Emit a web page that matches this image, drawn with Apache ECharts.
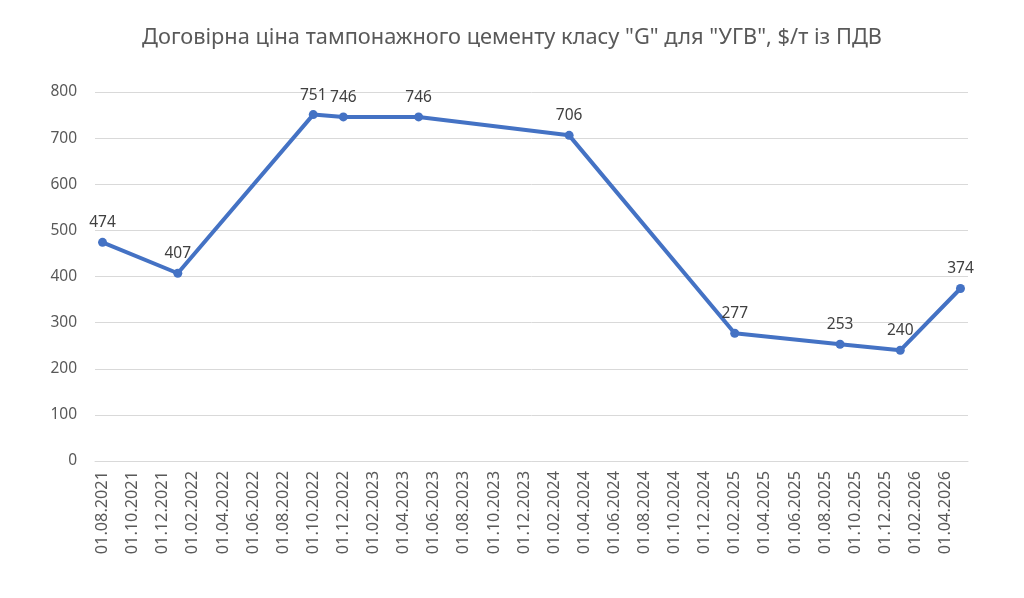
<!DOCTYPE html>
<html>
<head>
<meta charset="utf-8">
<script src="https://cdn.jsdelivr.net/npm/echarts@6/dist/echarts.min.js"></script>
<style>
    html, body { margin: 0; padding: 0; background: #fff; }
    #chart { width: 1024px; height: 598px; }
</style>
</head>
<body>
<div id="chart"></div>
<script>
    // точки ціни (дата місяця -> $/т)
    var pointDates = ['01.08.2021', '01.01.2022', '01.10.2022', '01.12.2022', '01.05.2023',
                      '01.03.2024', '01.02.2025', '01.09.2025', '01.01.2026', '01.05.2026'];
    var pointValues = [474, 407, 751, 746, 746, 706, 277, 253, 240, 374];
    var yTicks = [0, 100, 200, 300, 400, 500, 600, 700, 800];
    var titleText = 'Договірна ціна тампонажного цементу класу "G" для "УГВ", $/т із ПДВ';

    // місячна шкала з 01.08.2021 по 01.05.2026
    var months = [];
    var y = 2021, m = 8;
    while (y < 2026 || (y === 2026 && m <= 5)) {
        months.push('01.' + (m < 10 ? '0' + m : m) + '.' + y);
        m++;
        if (m > 12) { m = 1; y++; }
    }

    var seriesData = pointDates.map(function (d, i) { return [d, pointValues[i]]; });

    var myChart = echarts.init(document.getElementById('chart'));
    myChart.setOption({
        animation: false,
        title: {
            text: titleText,
            left: 'center',
            top: 22,
            textStyle: {
                fontFamily: 'Noto Sans',
                fontWeight: 'normal',
                fontSize: 21.8,
                color: '#595959'
            }
        },
        grid: {
            left: 95,
            right: 56,
            top: 92,
            bottom: 137
        },
        xAxis: {
            type: 'category',
            boundaryGap: true,
            data: months,
            axisLine: { lineStyle: { color: '#d9d9d9', width: 1 } },
            axisTick: {
                interval: 1,
                alignWithLabel: false,
                length: 5,
                lineStyle: { color: '#d9d9d9' }
            },
            axisLabel: {
                interval: 1,
                rotate: 90,
                margin: 10,
                color: '#595959',
                fontSize: 16.3,
                fontFamily: 'Noto Sans'
            },
            splitLine: { show: false }
        },
        yAxis: {
            type: 'value',
            min: yTicks[0],
            max: yTicks[yTicks.length - 1],
            interval: 100,
            axisLine: { show: false },
            axisTick: { show: false },
            axisLabel: {
                margin: 18,
                color: '#595959',
                fontSize: 15.5,
                fontFamily: 'Noto Sans'
            },
            splitLine: { lineStyle: { color: '#d9d9d9', width: 1 } }
        },
        series: [{
            type: 'line',
            data: seriesData,
            symbol: 'circle',
            symbolSize: 9,
            lineStyle: { color: '#4472c4', width: 4 },
            itemStyle: { color: '#4472c4' },
            label: {
                show: true,
                position: 'top',
                distance: 7,
                color: '#404040',
                fontSize: 15.5,
                fontFamily: 'Noto Sans'
            }
        }]
    });
</script>
</body>
</html>
